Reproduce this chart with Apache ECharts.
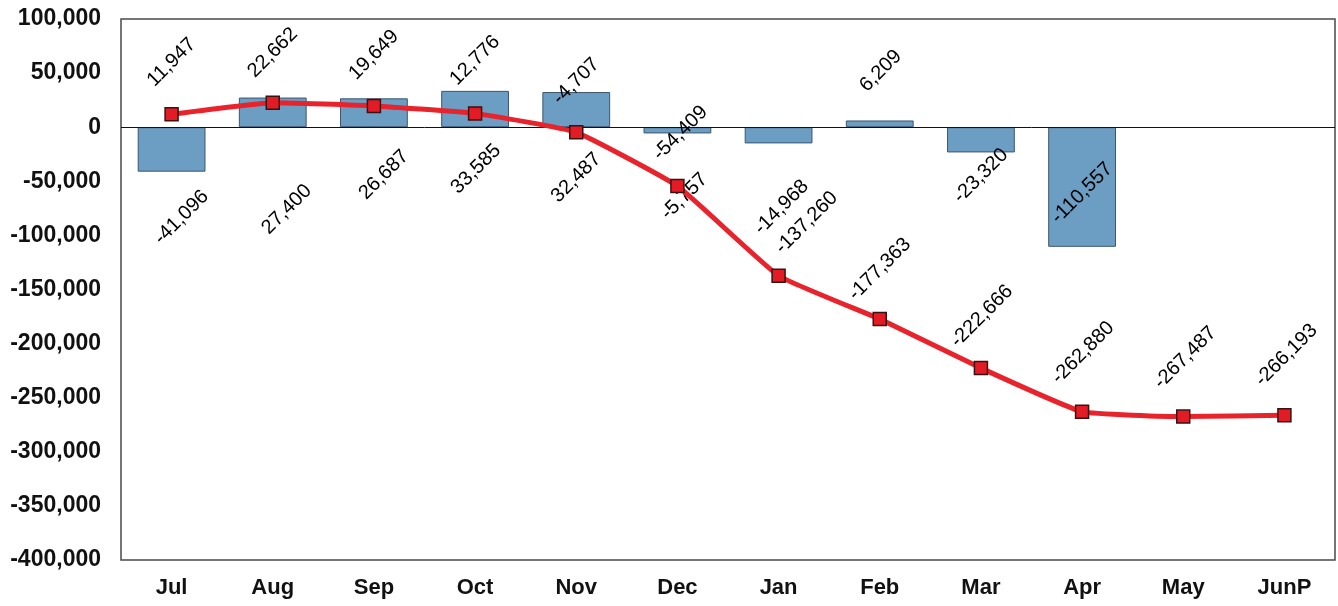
<!DOCTYPE html>
<html>
<head>
<meta charset="utf-8">
<script src="https://cdn.jsdelivr.net/npm/echarts@6/dist/echarts.min.js"></script>
<style>
  html, body { margin: 0; padding: 0; background: #ffffff; }
  #chart { width: 1338px; height: 606px; }
</style>
</head>
<body>
<div id="chart"></div>
<script>
// Monthly change (bars) and running cumulative total (line)
const months = ['Jul', 'Aug', 'Sep', 'Oct', 'Nov', 'Dec', 'Jan', 'Feb', 'Mar', 'Apr', 'May', 'JunP'];
const monthlyChange = [-41096, 27400, 26687, 33585, 32487, -5757, -14968, 6209, -23320, -110557, null, null];
const cumulative = [11947, 22662, 19649, 12776, -4707, -54409, -137260, -177363, -222666, -262880, -267487, -266193];
const yMin = -400000;
const yMax = 100000;
const yStep = 50000;

// Label placement: pixel nudges from the centre of each bar / marker
const barLabelNudge = [[10, 68], [14, 97], [10, 62], [1, 60], [0, 68], [7, 66], [3, 72], [1, -53], [0, 36], [0, 6], [0, 0], [0, 0]];
const lineLabelNudge = [[0, -52], [0, -50], [0, -51], [0, -53], [0, -51], [3, -53], [28, -53], [0, -50], [1, -52], [1, -59], [2, -59], [2, -60]];

const fmt = v => Number(v).toLocaleString('en-US');
const FONT = '"Liberation Sans", Arial, Helvetica, sans-serif';

const chart = echarts.init(document.getElementById('chart'), null, { renderer: 'canvas' });

function placeLabel(nudges) {
  return function (p) {
    const n = nudges[p.dataIndex] || [0, 0];
    return {
      x: p.rect.x + p.rect.width / 2 + n[0],
      y: p.rect.y + p.rect.height / 2 + n[1],
      align: 'center',
      verticalAlign: 'middle',
      rotate: 45
    };
  };
}

const dataLabel = {
  show: true,
  position: 'inside',
  rotate: 45,
  formatter: p => fmt(p.value),
  color: '#000000',
  fontFamily: FONT,
  fontSize: 20
};

chart.setOption({
  animation: false,
  backgroundColor: '#ffffff',
  grid: {
    left: 121, right: 3, top: 19, bottom: 46,
    show: true, borderColor: '#4a4a4a', borderWidth: 1.5, backgroundColor: 'transparent'
  },
  xAxis: {
    type: 'category',
    data: months,
    axisLine: { show: false, onZero: false },
    axisTick: { show: false },
    axisLabel: { color: '#111111', fontFamily: FONT, fontWeight: 'bold', fontSize: 22, margin: 17 },
    splitLine: { show: false }
  },
  yAxis: {
    type: 'value',
    min: yMin, max: yMax, interval: yStep,
    axisLine: { show: false },
    axisTick: { show: false },
    splitLine: { show: false },
    axisLabel: { color: '#111111', fontFamily: FONT, fontWeight: 'bold', fontSize: 23, margin: 20, formatter: v => fmt(v) }
  },
  series: [
    {
      name: 'Monthly',
      type: 'bar',
      data: monthlyChange,
      barWidth: '67%',
      itemStyle: { color: '#6c9ec4', borderColor: '#3b5670', borderWidth: 1 },
      label: dataLabel,
      labelLayout: placeLabel(barLabelNudge),
      markLine: {
        silent: true,
        symbol: 'none',
        label: { show: false },
        lineStyle: { color: '#111111', width: 1, type: 'solid' },
        data: [{ yAxis: 0 }]
      },
      z: 2
    },
    {
      name: 'Cumulative',
      type: 'line',
      data: cumulative,
      smooth: 0.12,
      symbol: 'rect',
      symbolSize: 13,
      lineStyle: { color: '#e8232b', width: 5 },
      itemStyle: { color: '#e31b24', borderColor: '#3a1212', borderWidth: 1.5 },
      label: dataLabel,
      labelLayout: placeLabel(lineLabelNudge),
      z: 5
    }
  ]
});
</script>
</body>
</html>
